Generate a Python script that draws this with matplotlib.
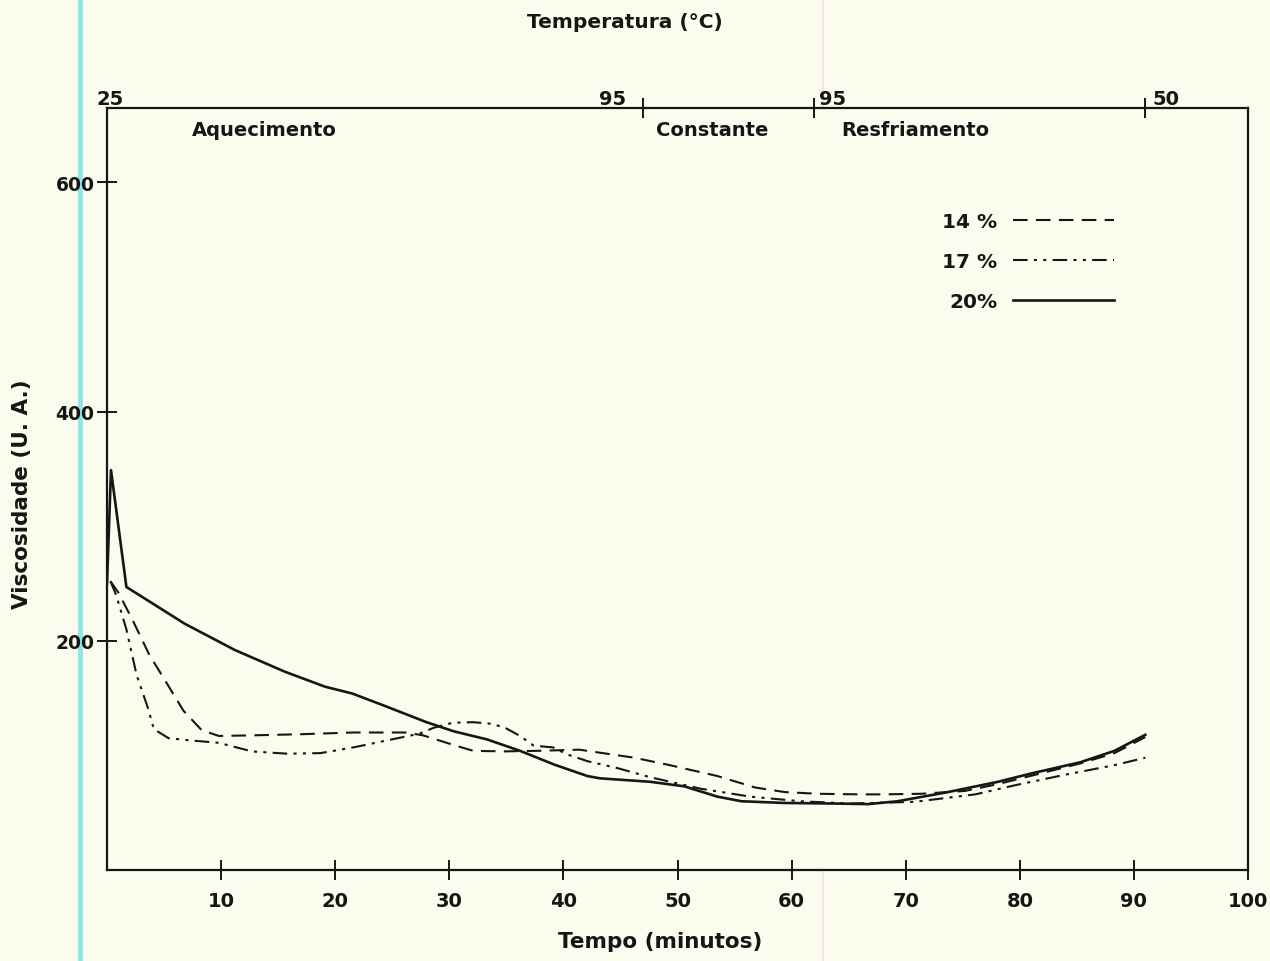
import matplotlib
matplotlib.use("Agg")
import matplotlib.pyplot as plt
from matplotlib.lines import Line2D

# viscosity curves, time in minutes
t_20 = [0, 0.35, 1.7, 6.8, 11.2, 15.6, 19.1, 21.5, 24.4, 28.0, 30.4, 33.3, 36.2,
        39.2, 42.1, 43.2, 47.6, 50.6, 53.5, 55.6, 59.4, 63.8, 66.7, 69.3, 73.7,
        78.1, 80.9, 85.3, 88.3, 91.0]
v_20 = [250, 349, 247, 215, 192, 173, 160, 154, 143, 129, 121, 114, 104,
        92, 82, 80, 77, 73, 64, 60, 58.5, 58, 57.5, 60, 68,
        77, 84, 94, 104, 118]

t_14 = [0.3, 1.0, 2.2, 3.7, 5.3, 6.7, 8.3, 9.8, 12.7, 17.0, 21.6, 24.5, 26.2,
        27.7, 30.4, 32.1, 34.8, 37.7, 41.4, 46.2, 49.1, 53.5, 56.8, 59.4, 62.3,
        66.1, 67.8, 71.3, 75.2, 78.1, 80.9, 85.3, 88.3, 91.0]
v_14 = [252, 242, 219, 188, 162, 139, 122, 117, 117.5, 118.5, 120, 120, 120,
        117.5, 109, 104, 103.5, 104, 105, 98, 92, 82, 72, 68, 66.5,
        66, 66, 66.5, 69, 75, 82, 93, 102, 116]

t_17 = [0.3, 0.8, 1.7, 2.6, 3.6, 4.1, 5.4, 7.4, 9.8, 12.7, 15.8, 18.7, 21.6,
        24.5, 27.4, 28.6, 30.3, 32.1, 33.8, 35.0, 36.2, 37.4, 39.1, 40.3, 42.1,
        44.7, 47.6, 52.0, 56.4, 60.8, 65.2, 70.8, 76.1, 79.6, 83.9, 88.3, 91.0]
v_17 = [252, 240, 210, 170, 141, 123, 115, 113, 111, 103.5, 101.5, 102, 107,
        113, 119, 124, 128.5, 129, 127.5, 123.5, 117, 108.5, 107, 101, 95,
        89, 81, 71, 64, 60, 58, 59.5, 66, 74, 83, 91.5, 98]

x_ticks = [10, 20, 30, 40, 50, 60, 70, 80, 90, 100]
y_ticks = [200, 400, 600]

# temperature programme on the top axis
temp_ticks = [47, 62, 91]
temp_label_pos = [0.3, 44.3, 63.6, 92.8]
temp_labels = ['25', '95', '95', '50']

phase_pos = [13.8, 53.0, 70.8]
phase_names = ['Aquecimento', 'Constante', 'Resfriamento']

bg = '#fcfcee'
ink = '#161616'

plt.rcParams['font.family'] = ['DejaVu Sans']
plt.rcParams['font.weight'] = 'bold'

fig = plt.figure(figsize=(12.7, 9.62), dpi=100, facecolor=bg)
ax = fig.add_axes([107 / 1270, 1 - 871 / 962, 1141 / 1270, 762 / 962])
ax.set_facecolor(bg)

ax.plot(t_14, v_14, color=ink, lw=1.5, dashes=(7, 4), label='14 %')
ax.plot(t_17, v_17, color=ink, lw=1.5, dashes=(7, 3, 1.5, 3, 1.5, 3), label='17 %')
ax.plot(t_20, v_20, color=ink, lw=1.9, label='20%')

ax.set_xlim(0, 100)
ax.set_ylim(0, 665)
ax.set_xticks(x_ticks)
ax.set_xticklabels([str(v) for v in x_ticks])
ax.set_yticks(y_ticks)
ax.set_yticklabels([str(v) for v in y_ticks])
ax.tick_params(direction='inout', length=14, width=1.4, colors=ink,
               labelsize=13.5, pad=2)
ax.tick_params(axis='x', pad=8, labelsize=14)
for s in ax.spines.values():
    s.set_linewidth(1.6)
    s.set_color(ink)

top = ax.twiny()
top.set_xlim(ax.get_xlim())
top.set_xticks(temp_ticks)
top.set_xticklabels([])
top.tick_params(direction='inout', length=14, width=1.4, colors=ink)
for s in top.spines.values():
    s.set_visible(False)

for x, lab in zip(temp_label_pos, temp_labels):
    ax.text(x, 1.0, lab, transform=ax.get_xaxis_transform(), ha='center',
            va='bottom', fontsize=14, fontweight='bold', color=ink)

for x, name in zip(phase_pos, phase_names):
    ax.text(x, 0.972, name, transform=ax.get_xaxis_transform(), ha='center',
            va='center', fontsize=14, fontweight='bold', color=ink)

ax.legend(loc='upper left', bbox_to_anchor=(924 / 1270, 1 - 195 / 962),
          bbox_transform=fig.transFigure, frameon=False, markerfirst=False,
          handlelength=5.0, handletextpad=0.8, labelspacing=1.05,
          prop={'size': 14.5, 'weight': 'bold'}, labelcolor=ink)

fig.text(625 / 1270, 1 - 23 / 962, 'Temperatura (°C)', ha='center', va='center',
         fontsize=14.5, fontweight='bold', color=ink)
fig.text(660 / 1270, 1 - 942 / 962, 'Tempo (minutos)', ha='center', va='center',
         fontsize=15.5, fontweight='bold', color=ink)
fig.text(22 / 1270, 1 - 494 / 962, 'Viscosidade (U. A.)', ha='center',
         va='center', rotation=90, fontsize=15.5, fontweight='bold', color=ink)

# scanner streaks on the page
fig.add_artist(Line2D([80 / 1270] * 2, [0, 1], transform=fig.transFigure,
                      color='#8fe6ea', lw=3.5, zorder=-1))
fig.add_artist(Line2D([823 / 1270] * 2, [0, 1], transform=fig.transFigure,
                      color='#f3e4e8', lw=1.5, zorder=-1))

fig.savefig('out.png', dpi=100, facecolor=bg)
